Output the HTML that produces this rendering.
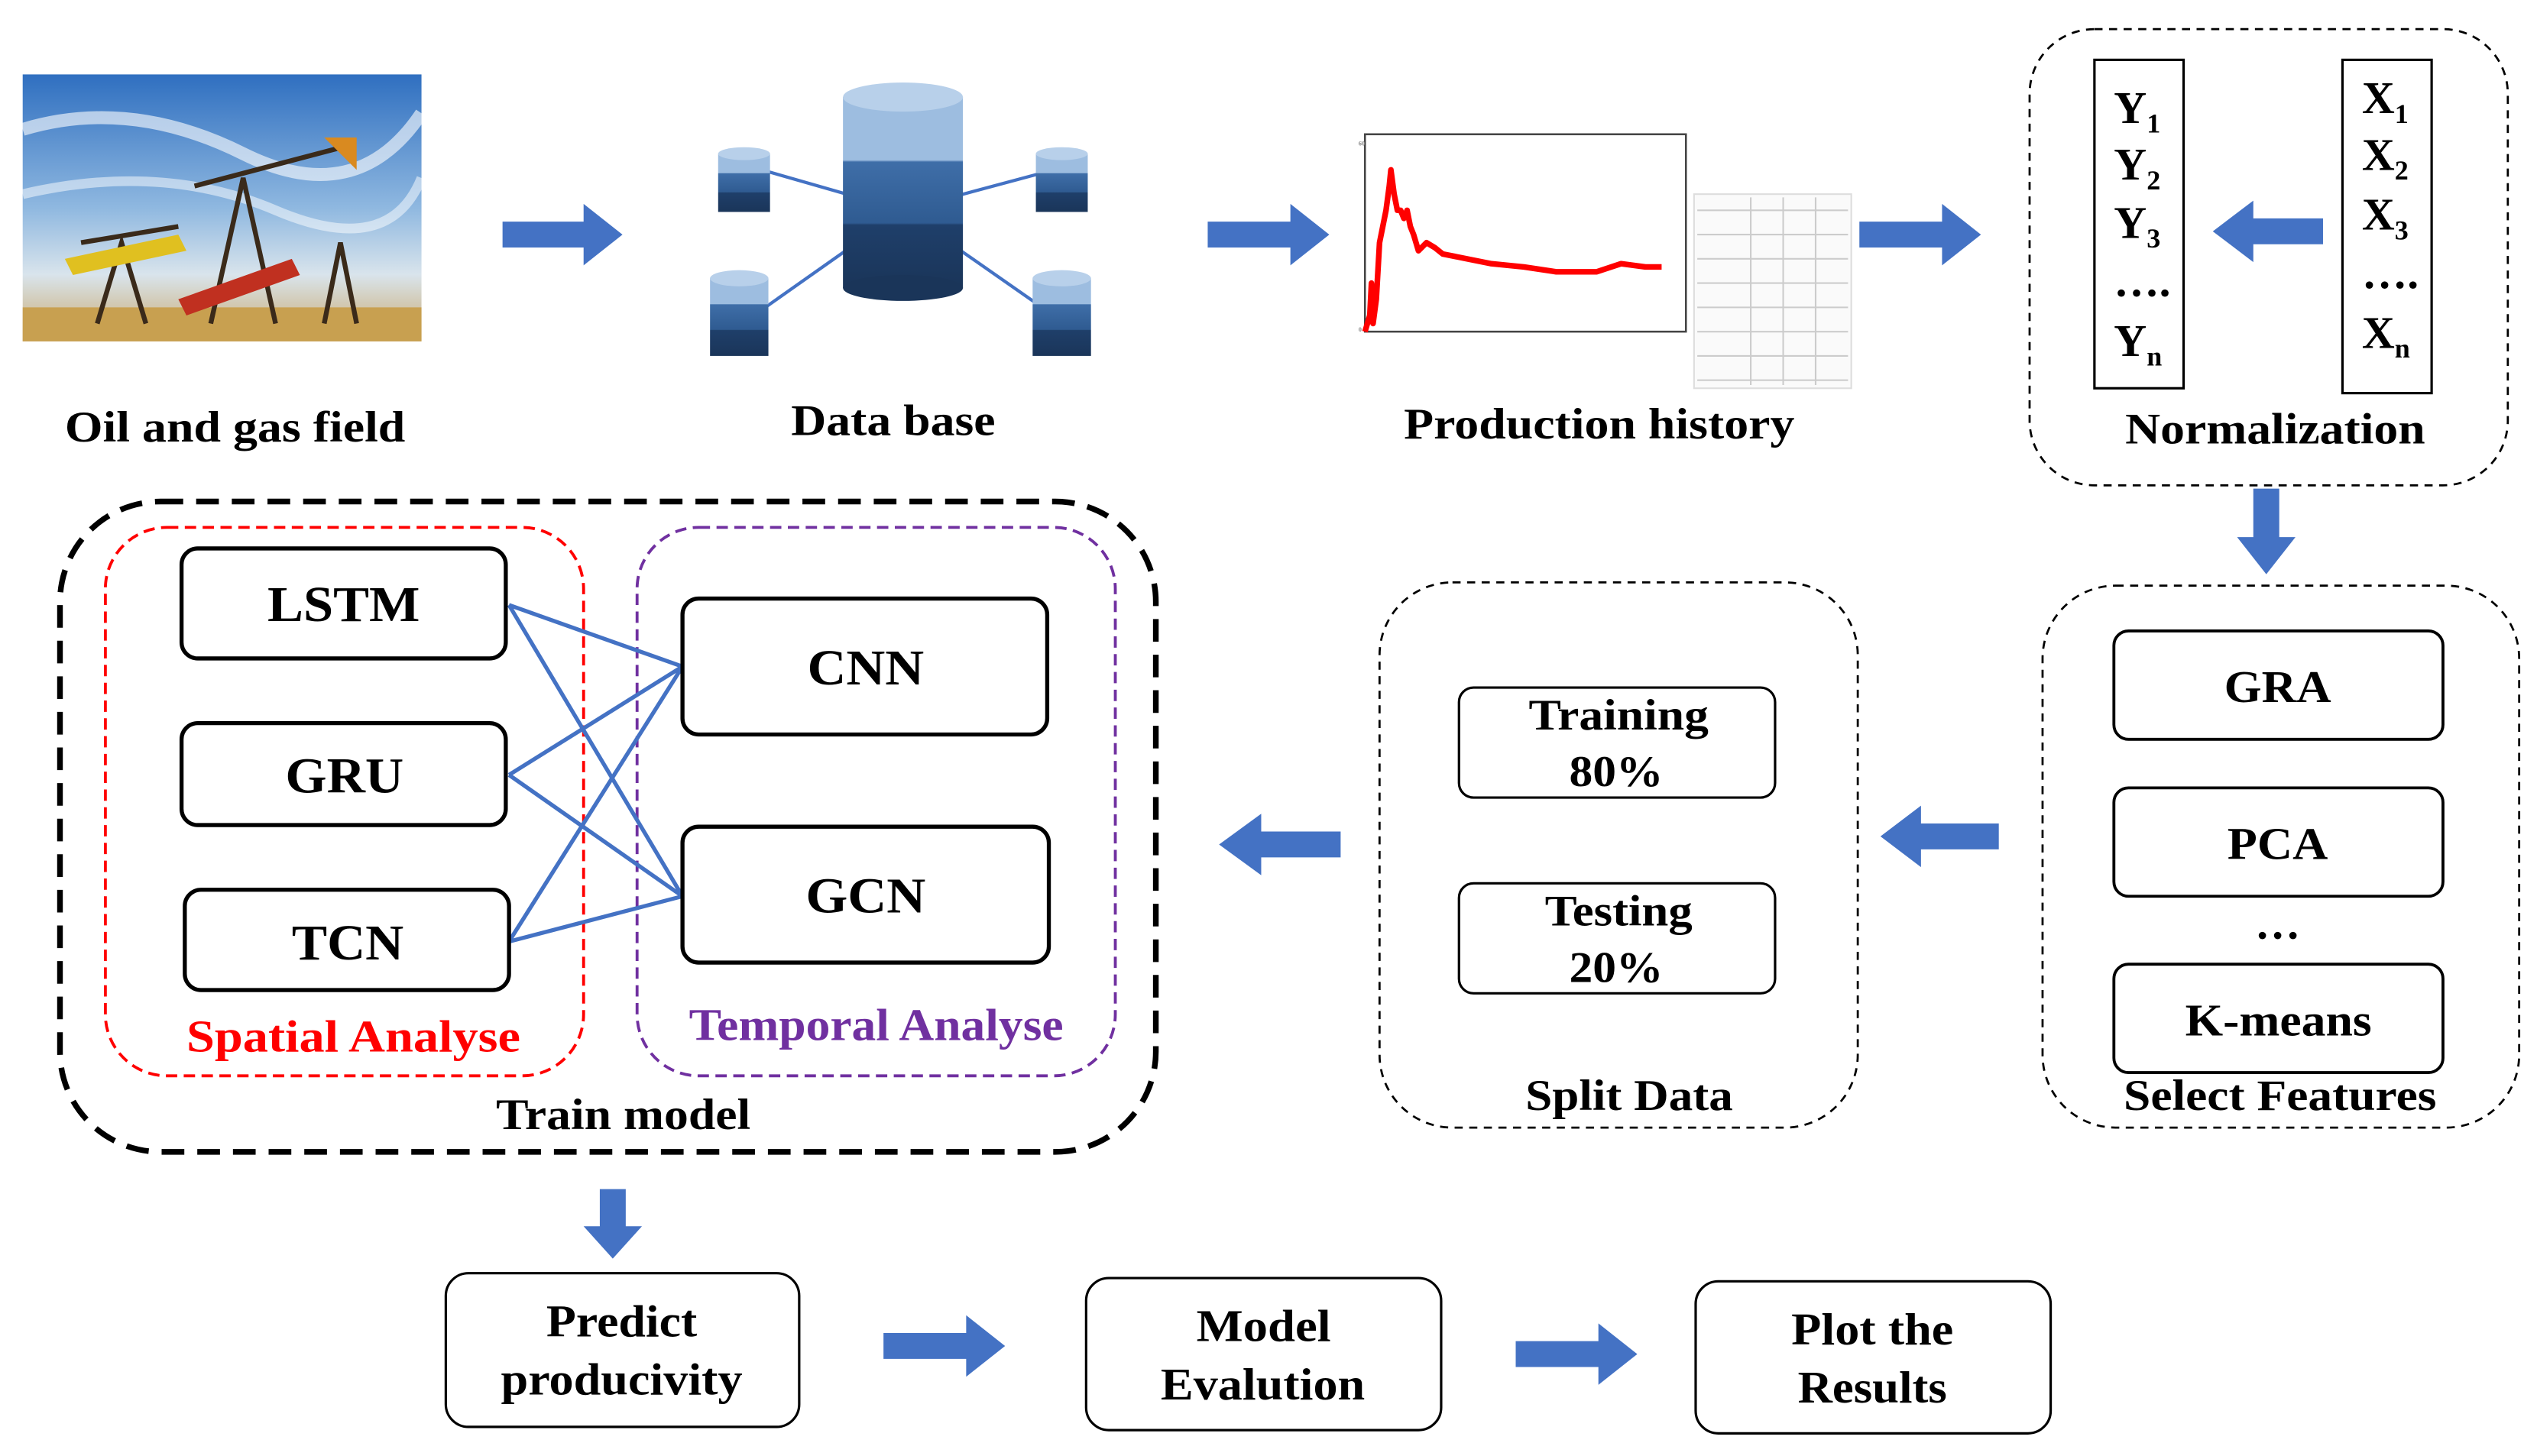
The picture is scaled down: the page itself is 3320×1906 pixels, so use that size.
<!DOCTYPE html>
<html><head><meta charset="utf-8"><style>
html,body{margin:0;padding:0;background:#fff;}
svg{display:block;}
text{font-family:"Liberation Serif",serif;font-weight:bold;}
</style></head><body>
<svg width="3320" height="1906" viewBox="0 0 1565 900" preserveAspectRatio="none" xmlns="http://www.w3.org/2000/svg">
<defs>
<linearGradient id="sky" x1="0" y1="0" x2="0" y2="1">
<stop offset="0" stop-color="#2f6fc0"/><stop offset="0.5" stop-color="#8fb8e0"/><stop offset="0.75" stop-color="#d9e4ec"/><stop offset="1" stop-color="#c9a86a"/>
</linearGradient>
<linearGradient id="cyl" x1="0" y1="0" x2="0" y2="1">
<stop offset="0" stop-color="#9dbde0"/><stop offset="0.33" stop-color="#9dbde0"/><stop offset="0.34" stop-color="#3f6ea8"/><stop offset="0.66" stop-color="#2f5b91"/><stop offset="0.67" stop-color="#1f3f6a"/><stop offset="1" stop-color="#1a3559"/>
</linearGradient>
</defs>

<!-- Oil field image -->
<rect x="14" y="46" width="246" height="165" fill="url(#sky)"/>
<path d="M14 80 Q80 60 150 95 T260 70" stroke="#fff" stroke-width="8" fill="none" opacity="0.6"/>
<path d="M14 120 Q100 100 170 130 T260 110" stroke="#fff" stroke-width="6" fill="none" opacity="0.5"/>
<rect x="14" y="190" width="246" height="21" fill="#c8a050"/>
<g stroke="#3a2a1a" stroke-width="3" fill="none">
<path d="M130 200 L150 110 L170 200"/><path d="M120 115 L215 90"/>
<path d="M60 200 L75 150 L90 200"/><path d="M50 150 L110 140"/>
<path d="M200 200 L210 150 L220 200"/>
</g>
<path d="M200 85 l20 0 l0 20 z" fill="#d98a20"/>
<path d="M40 160 L110 145 L115 155 L45 170 Z" fill="#e0c020"/>
<path d="M110 185 L180 160 L185 170 L115 195 Z" fill="#c03020"/>

<path d="M310 137 H360 V126 L384 145 L360 164 V153 H310 Z" fill="#4472C4"/>

<!-- Database -->
<g stroke="#4472C4" stroke-width="2">
<line x1="557" y1="130" x2="470" y2="105"/><line x1="557" y1="130" x2="650" y2="105"/>
<line x1="557" y1="130" x2="465" y2="195"/><line x1="557" y1="130" x2="650" y2="195"/>
</g>
<rect x="520" y="60" width="74" height="118" fill="url(#cyl)"/>
<ellipse cx="557" cy="60" rx="37" ry="9" fill="#b8d0ea"/>
<ellipse cx="557" cy="178" rx="37" ry="8" fill="#1a3559"/>
<g>
<rect x="443" y="95" width="32" height="36" fill="url(#cyl)"/><ellipse cx="459" cy="95" rx="16" ry="4" fill="#b8d0ea"/>
<rect x="639" y="95" width="32" height="36" fill="url(#cyl)"/><ellipse cx="655" cy="95" rx="16" ry="4" fill="#b8d0ea"/>
<rect x="438" y="172" width="36" height="48" fill="url(#cyl)"/><ellipse cx="456" cy="172" rx="18" ry="5" fill="#b8d0ea"/>
<rect x="637" y="172" width="36" height="48" fill="url(#cyl)"/><ellipse cx="655" cy="172" rx="18" ry="5" fill="#b8d0ea"/>
</g>

<path d="M745 137 H796 V126 L820 145 L796 164 V153 H745 Z" fill="#4472C4"/>

<!-- chart -->
<rect x="842" y="83" width="198" height="122" fill="#fff" stroke="#444" stroke-width="1.2"/>
<polyline fill="none" stroke="#f00" stroke-width="3.5" stroke-linejoin="round" points="842,205 845,195 846,175 847,200 849,185 851,150 853,140 855,130 857,115 858,105 860,120 862,130 864,130 866,135 868,130 870,140 872,145 875,155 880,150 885,153 890,157 905,160 920,163 940,165 960,168 985,168 1000,163 1015,165 1025,165"/>
<g font-size="4" fill="#888"><text x="838" y="90">60</text><text x="838" y="205">0</text></g>
<rect x="1045" y="120" width="97" height="120" fill="#fafafa" stroke="#ddd"/>
<g stroke="#ccc" stroke-width="1">
<line x1="1047" y1="130" x2="1140" y2="130"/><line x1="1047" y1="145" x2="1140" y2="145"/><line x1="1047" y1="160" x2="1140" y2="160"/><line x1="1047" y1="175" x2="1140" y2="175"/><line x1="1047" y1="190" x2="1140" y2="190"/><line x1="1047" y1="205" x2="1140" y2="205"/><line x1="1047" y1="220" x2="1140" y2="220"/><line x1="1047" y1="235" x2="1140" y2="235"/>
<line x1="1080" y1="122" x2="1080" y2="238"/><line x1="1100" y1="122" x2="1100" y2="238"/><line x1="1120" y1="122" x2="1120" y2="238"/>
</g>

<path d="M1147 137 H1198 V126 L1222 145 L1198 164 V153 H1147 Z" fill="#4472C4"/>

<g font-size="27" fill="#000" lengthAdjust="spacingAndGlyphs">
<text x="40" y="273" textLength="210" lengthAdjust="spacingAndGlyphs">Oil and gas field</text>
<text x="488" y="269" textLength="126" lengthAdjust="spacingAndGlyphs">Data base</text>
<text x="866" y="271" textLength="241" lengthAdjust="spacingAndGlyphs">Production history</text>
<text x="1311" y="274" textLength="185" lengthAdjust="spacingAndGlyphs">Normalization</text>
</g>

<!-- Normalization -->
<rect x="1252" y="18" width="295" height="282" rx="40" fill="none" stroke="#000" stroke-width="1.3" stroke-dasharray="5,4"/>
<rect x="1292" y="37" width="55" height="203" fill="none" stroke="#000" stroke-width="1.5"/>
<rect x="1445" y="37" width="55" height="206" fill="none" stroke="#000" stroke-width="1.5"/>
<g font-size="28" fill="#000">
<text x="1304" y="76">Y<tspan font-size="17" dy="6">1</tspan></text>
<text x="1304" y="111">Y<tspan font-size="17" dy="6">2</tspan></text>
<text x="1304" y="147">Y<tspan font-size="17" dy="6">3</tspan></text>
<text x="1304" y="183">….</text>
<text x="1304" y="220">Y<tspan font-size="17" dy="6">n</tspan></text>
<text x="1457" y="70">X<tspan font-size="17" dy="6">1</tspan></text>
<text x="1457" y="105">X<tspan font-size="17" dy="6">2</tspan></text>
<text x="1457" y="142">X<tspan font-size="17" dy="6">3</tspan></text>
<text x="1457" y="178">….</text>
<text x="1457" y="215">X<tspan font-size="17" dy="6">n</tspan></text>
</g>
<path d="M1433 135 H1390 V124 L1365 143 L1390 162 V151 H1433 Z" fill="#4472C4"/>

<path d="M1390 302 V332 H1380 L1398 355 L1416 332 H1406 V302 Z" fill="#4472C4"/>

<!-- Select Features -->
<rect x="1260" y="362" width="294" height="335" rx="45" fill="none" stroke="#000" stroke-width="1.3" stroke-dasharray="5,4"/>
<g fill="#fff" stroke="#000" stroke-width="1.8">
<rect x="1304" y="390" width="203" height="67" rx="9"/>
<rect x="1304" y="487" width="203" height="67" rx="9"/>
<rect x="1304" y="596" width="203" height="67" rx="9"/>
</g>
<g font-size="28" fill="#000">
<text x="1372" y="434" textLength="66" lengthAdjust="spacingAndGlyphs">GRA</text>
<text x="1374" y="531" textLength="62" lengthAdjust="spacingAndGlyphs">PCA</text>
<text x="1405" y="580" text-anchor="middle">…</text>
<text x="1348" y="640" textLength="115" lengthAdjust="spacingAndGlyphs">K-means</text>
<text x="1310" y="686" font-size="27" textLength="193" lengthAdjust="spacingAndGlyphs">Select Features</text>
</g>

<path d="M1233 509 H1185 V498 L1160 517 L1185 536 V525 H1233 Z" fill="#4472C4"/>

<!-- Split Data -->
<rect x="851" y="360" width="295" height="337" rx="45" fill="none" stroke="#000" stroke-width="1.3" stroke-dasharray="5,4"/>
<g fill="#fff" stroke="#000" stroke-width="1.5">
<rect x="900" y="425" width="195" height="68" rx="9"/>
<rect x="900" y="546" width="195" height="68" rx="9"/>
</g>
<g font-size="27" fill="#000">
<text x="943" y="451" textLength="111" lengthAdjust="spacingAndGlyphs">Training</text>
<text x="968" y="486" textLength="58" lengthAdjust="spacingAndGlyphs">80%</text>
<text x="953" y="572" textLength="91" lengthAdjust="spacingAndGlyphs">Testing</text>
<text x="968" y="607" textLength="58" lengthAdjust="spacingAndGlyphs">20%</text>
<text x="941" y="686" textLength="128" lengthAdjust="spacingAndGlyphs">Split Data</text>
</g>

<path d="M827 514 H778 V503 L752 522 L778 541 V530 H827 Z" fill="#4472C4"/>

<!-- Train model -->
<rect x="37" y="310" width="676" height="402" rx="62" fill="none" stroke="#000" stroke-width="3.5" stroke-dasharray="14,8"/>
<rect x="65" y="326" width="295" height="339" rx="38" fill="none" stroke="#f00" stroke-width="1.8" stroke-dasharray="7,4"/>
<rect x="393" y="326" width="295" height="339" rx="38" fill="none" stroke="#7030A0" stroke-width="1.8" stroke-dasharray="7,4"/>
<g stroke="#4472C4" stroke-width="2.5">
<line x1="314" y1="374" x2="421" y2="412"/><line x1="314" y1="374" x2="421" y2="554"/>
<line x1="314" y1="479" x2="421" y2="412"/><line x1="314" y1="479" x2="421" y2="554"/>
<line x1="314" y1="582" x2="421" y2="412"/><line x1="314" y1="582" x2="421" y2="554"/>
</g>
<g fill="#fff" stroke="#000" stroke-width="2.5">
<rect x="112" y="339" width="200" height="68" rx="10"/>
<rect x="112" y="447" width="200" height="63" rx="10"/>
<rect x="114" y="550" width="200" height="62" rx="10"/>
<rect x="421" y="370" width="225" height="84" rx="10"/>
<rect x="421" y="511" width="226" height="84" rx="10"/>
</g>
<g font-size="31" fill="#000">
<text x="165" y="384" textLength="94" lengthAdjust="spacingAndGlyphs">LSTM</text>
<text x="176" y="490" textLength="73" lengthAdjust="spacingAndGlyphs">GRU</text>
<text x="180" y="593" textLength="69" lengthAdjust="spacingAndGlyphs">TCN</text>
<text x="498" y="423" textLength="72" lengthAdjust="spacingAndGlyphs">CNN</text>
<text x="497" y="564" textLength="74" lengthAdjust="spacingAndGlyphs">GCN</text>
</g>
<g font-size="28">
<text x="115" y="650" fill="#f00" textLength="206" lengthAdjust="spacingAndGlyphs">Spatial  Analyse</text>
<text x="425" y="643" fill="#7030A0" textLength="231" lengthAdjust="spacingAndGlyphs">Temporal Analyse</text>
<text x="306" y="698" fill="#000" font-size="27" textLength="157" lengthAdjust="spacingAndGlyphs">Train model</text>
</g>

<path d="M370 735 V758 H360 L378 778 L396 758 H386 V735 Z" fill="#4472C4"/>

<!-- bottom row -->
<g fill="#fff" stroke="#000" stroke-width="1.5">
<rect x="275" y="787" width="218" height="95" rx="14"/>
<rect x="670" y="790" width="219" height="94" rx="14"/>
<rect x="1046" y="792" width="219" height="94" rx="14"/>
</g>
<g font-size="28" fill="#000">
<text x="337" y="826" textLength="93" lengthAdjust="spacingAndGlyphs">Predict</text>
<text x="309" y="862" textLength="149" lengthAdjust="spacingAndGlyphs">producivity</text>
<text x="738" y="829" textLength="83" lengthAdjust="spacingAndGlyphs">Model</text>
<text x="716" y="865" textLength="126" lengthAdjust="spacingAndGlyphs">Evalution</text>
<text x="1105" y="831" textLength="100" lengthAdjust="spacingAndGlyphs">Plot the</text>
<text x="1109" y="867" textLength="92" lengthAdjust="spacingAndGlyphs">Results</text>
</g>
<path d="M545 824 H596 V813 L620 832 L596 851 V840 H545 Z" fill="#4472C4"/>
<path d="M935 829 H986 V818 L1010 837 L986 856 V845 H935 Z" fill="#4472C4"/>
</svg>
</body></html>
